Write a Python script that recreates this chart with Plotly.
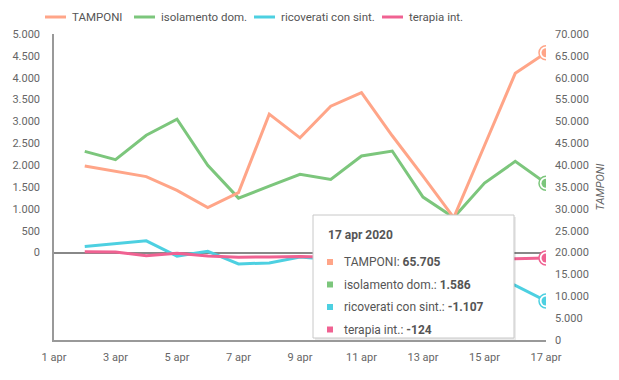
import plotly.graph_objects as go

# ---- data ----
dates = ["2020-04-%02d" % d for d in range(2, 18)]
tamponi = [39809, 38617, 37375, 34237, 30271, 33713, 51680, 46244, 53495, 56609,
           46720, 37500, 28000, 44500, 60999, 65705]
isolamento = [2316, 2126, 2683, 3050, 1995, 1245, 1520, 1789, 1674, 2209,
              2323, 1269, 800, 1590, 2087, 1586]
ricoverati = [138, 200, 268, -80, 30, -260, -237, -100, -157, -98,
              -121, -12, -368, -450, -750, -1107]
terapia = [18, 15, -74, -17, -79, -106, -99, -88, -108, -116,
           -38, -83, -74, -107, -143, -124]

names = ["TAMPONI", "isolamento dom.", "ricoverati con sint.", "terapia int."]
colors = ["#FFA588", "#7CC67C", "#4DD0E1", "#F06292"]
xtick_vals = ["2020-04-%02d" % d for d in range(1, 18, 2)]
xtick_text = ["%d apr" % d for d in range(1, 18, 2)]
left_ticks = list(range(0, 5001, 500))
right_ticks = list(range(0, 70001, 5000))
tooltip_title = "17 apr 2020"

series = [tamponi, isolamento, ricoverati, terapia]
axes = ["y2", "y", "y", "y"]
legend_text_x = [70, 159, 279, 407]

FONT = "Roboto"
W, H = 619, 380
L, R, T, B = 54, 73, 34, 40
PW, PH = W - L - R, H - T - B


def px(x):
    return (x - L) / PW


def py(y):
    return (H - B - y) / PH


def fmt(v):
    return f"{v:,}".replace(",", ".")


fig = go.Figure()
for name, vals, col, ax in zip(names, series, colors, axes):
    fig.add_trace(go.Scatter(x=dates, y=vals, name=name, yaxis=ax, mode="lines",
                             showlegend=False,
                             line=dict(color=col, width=3), hoverinfo="skip"))
# highlighted last points
for name, vals, col, ax in zip(names, series, colors, axes):
    fig.add_trace(go.Scatter(x=[dates[-1]], y=[vals[-1]], yaxis=ax, mode="markers",
                             showlegend=False, hoverinfo="skip",
                             marker=dict(size=14, color="white",
                                         line=dict(color=col, width=1.5))))
    fig.add_trace(go.Scatter(x=[dates[-1]], y=[vals[-1]], yaxis=ax, mode="markers",
                             showlegend=False, hoverinfo="skip",
                             marker=dict(size=9, color=col, line=dict(width=0))))

shapes = []
annotations = []

# legend (top row)
for name, col, tx in zip(names, colors, legend_text_x):
    shapes.append(dict(type="line", xref="paper", yref="paper",
                       x0=px(tx - 25), x1=px(tx - 4), y0=py(17), y1=py(17),
                       line=dict(color=col, width=3)))
    annotations.append(dict(xref="paper", yref="paper", x=px(tx), y=py(17),
                            xanchor="left", yanchor="middle", showarrow=False,
                            text=name,
                            font=dict(family=FONT, size=11.5, color="#555555")))

# tooltip box
bx0, bx1, by0, by1 = 313, 514, 215, 338
shapes += [
    dict(type="rect", xref="paper", yref="paper", x0=px(bx0 + 2), x1=px(bx1 + 2),
         y0=py(by0 + 2), y1=py(by1 + 2), fillcolor="rgba(0,0,0,0.08)",
         line=dict(width=0), layer="above"),
    dict(type="rect", xref="paper", yref="paper", x0=px(bx0), x1=px(bx1),
         y0=py(by0), y1=py(by1), fillcolor="white",
         line=dict(color="#C8C8C8", width=1), layer="above"),
]
annotations.append(
    dict(xref="paper", yref="paper", x=px(326), y=py(235), xanchor="left",
         yanchor="middle", showarrow=False, text="<b>%s</b>" % tooltip_title,
         font=dict(family=FONT, size=12, color="#555555")))
rows_y = [262, 284.5, 307, 329.5]
for name, vals, col, ry in zip(names, series, colors, rows_y):
    shapes.append(dict(type="rect", xref="paper", yref="paper", x0=px(327), x1=px(333),
                       y0=py(ry - 3), y1=py(ry + 3), fillcolor=col,
                       line=dict(width=0), layer="above"))
    annotations.append(dict(xref="paper", yref="paper", x=px(342), y=py(ry),
                            xanchor="left", yanchor="middle", showarrow=False,
                            text="%s: <b>%s</b>" % (name, fmt(vals[-1])),
                            font=dict(family=FONT, size=12, color="#555555")))

fig.update_layout(
    width=W, height=H,
    margin=dict(l=L, r=R, t=T, b=B, autoexpand=False),
    paper_bgcolor="white", plot_bgcolor="white",
    separators=",.",
    font=dict(family=FONT, size=11, color="#666666"),
    showlegend=False,
    xaxis=dict(range=["2020-04-01", "2020-04-17"], tickvals=xtick_vals,
               ticktext=xtick_text, showgrid=False, zeroline=False,
               showline=True, linecolor="#999999", linewidth=1.5,
               ticks="", ticklabelstandoff=6, automargin=False,
               tickfont=dict(family=FONT, size=11, color="#666666")),
    yaxis=dict(range=[-2000, 5000], tickvals=left_ticks, tickformat=",d",
               showgrid=False, zeroline=True, zerolinecolor="#888888",
               zerolinewidth=1.5, showline=True, linecolor="#999999",
               linewidth=1.5, ticks="", ticklabelstandoff=10, automargin=False,
               tickfont=dict(family=FONT, size=11, color="#666666")),
    yaxis2=dict(range=[0, 70000], tickvals=right_ticks, tickformat=",d",
                overlaying="y", side="right", showgrid=False, zeroline=False,
                showline=False, ticks="", ticklabelstandoff=8, automargin=False,
                title=dict(text="TAMPONI", standoff=8,
                           font=dict(family=FONT, size=11, color="#666666",
                                     style="italic")),
                tickfont=dict(family=FONT, size=11, color="#666666")),
    shapes=shapes,
    annotations=annotations,
)

fig.write_html("out.html", config={"displayModeBar": False},
               post_script="document.body.style.margin='0';"
                           "document.body.style.overflow='hidden';")
